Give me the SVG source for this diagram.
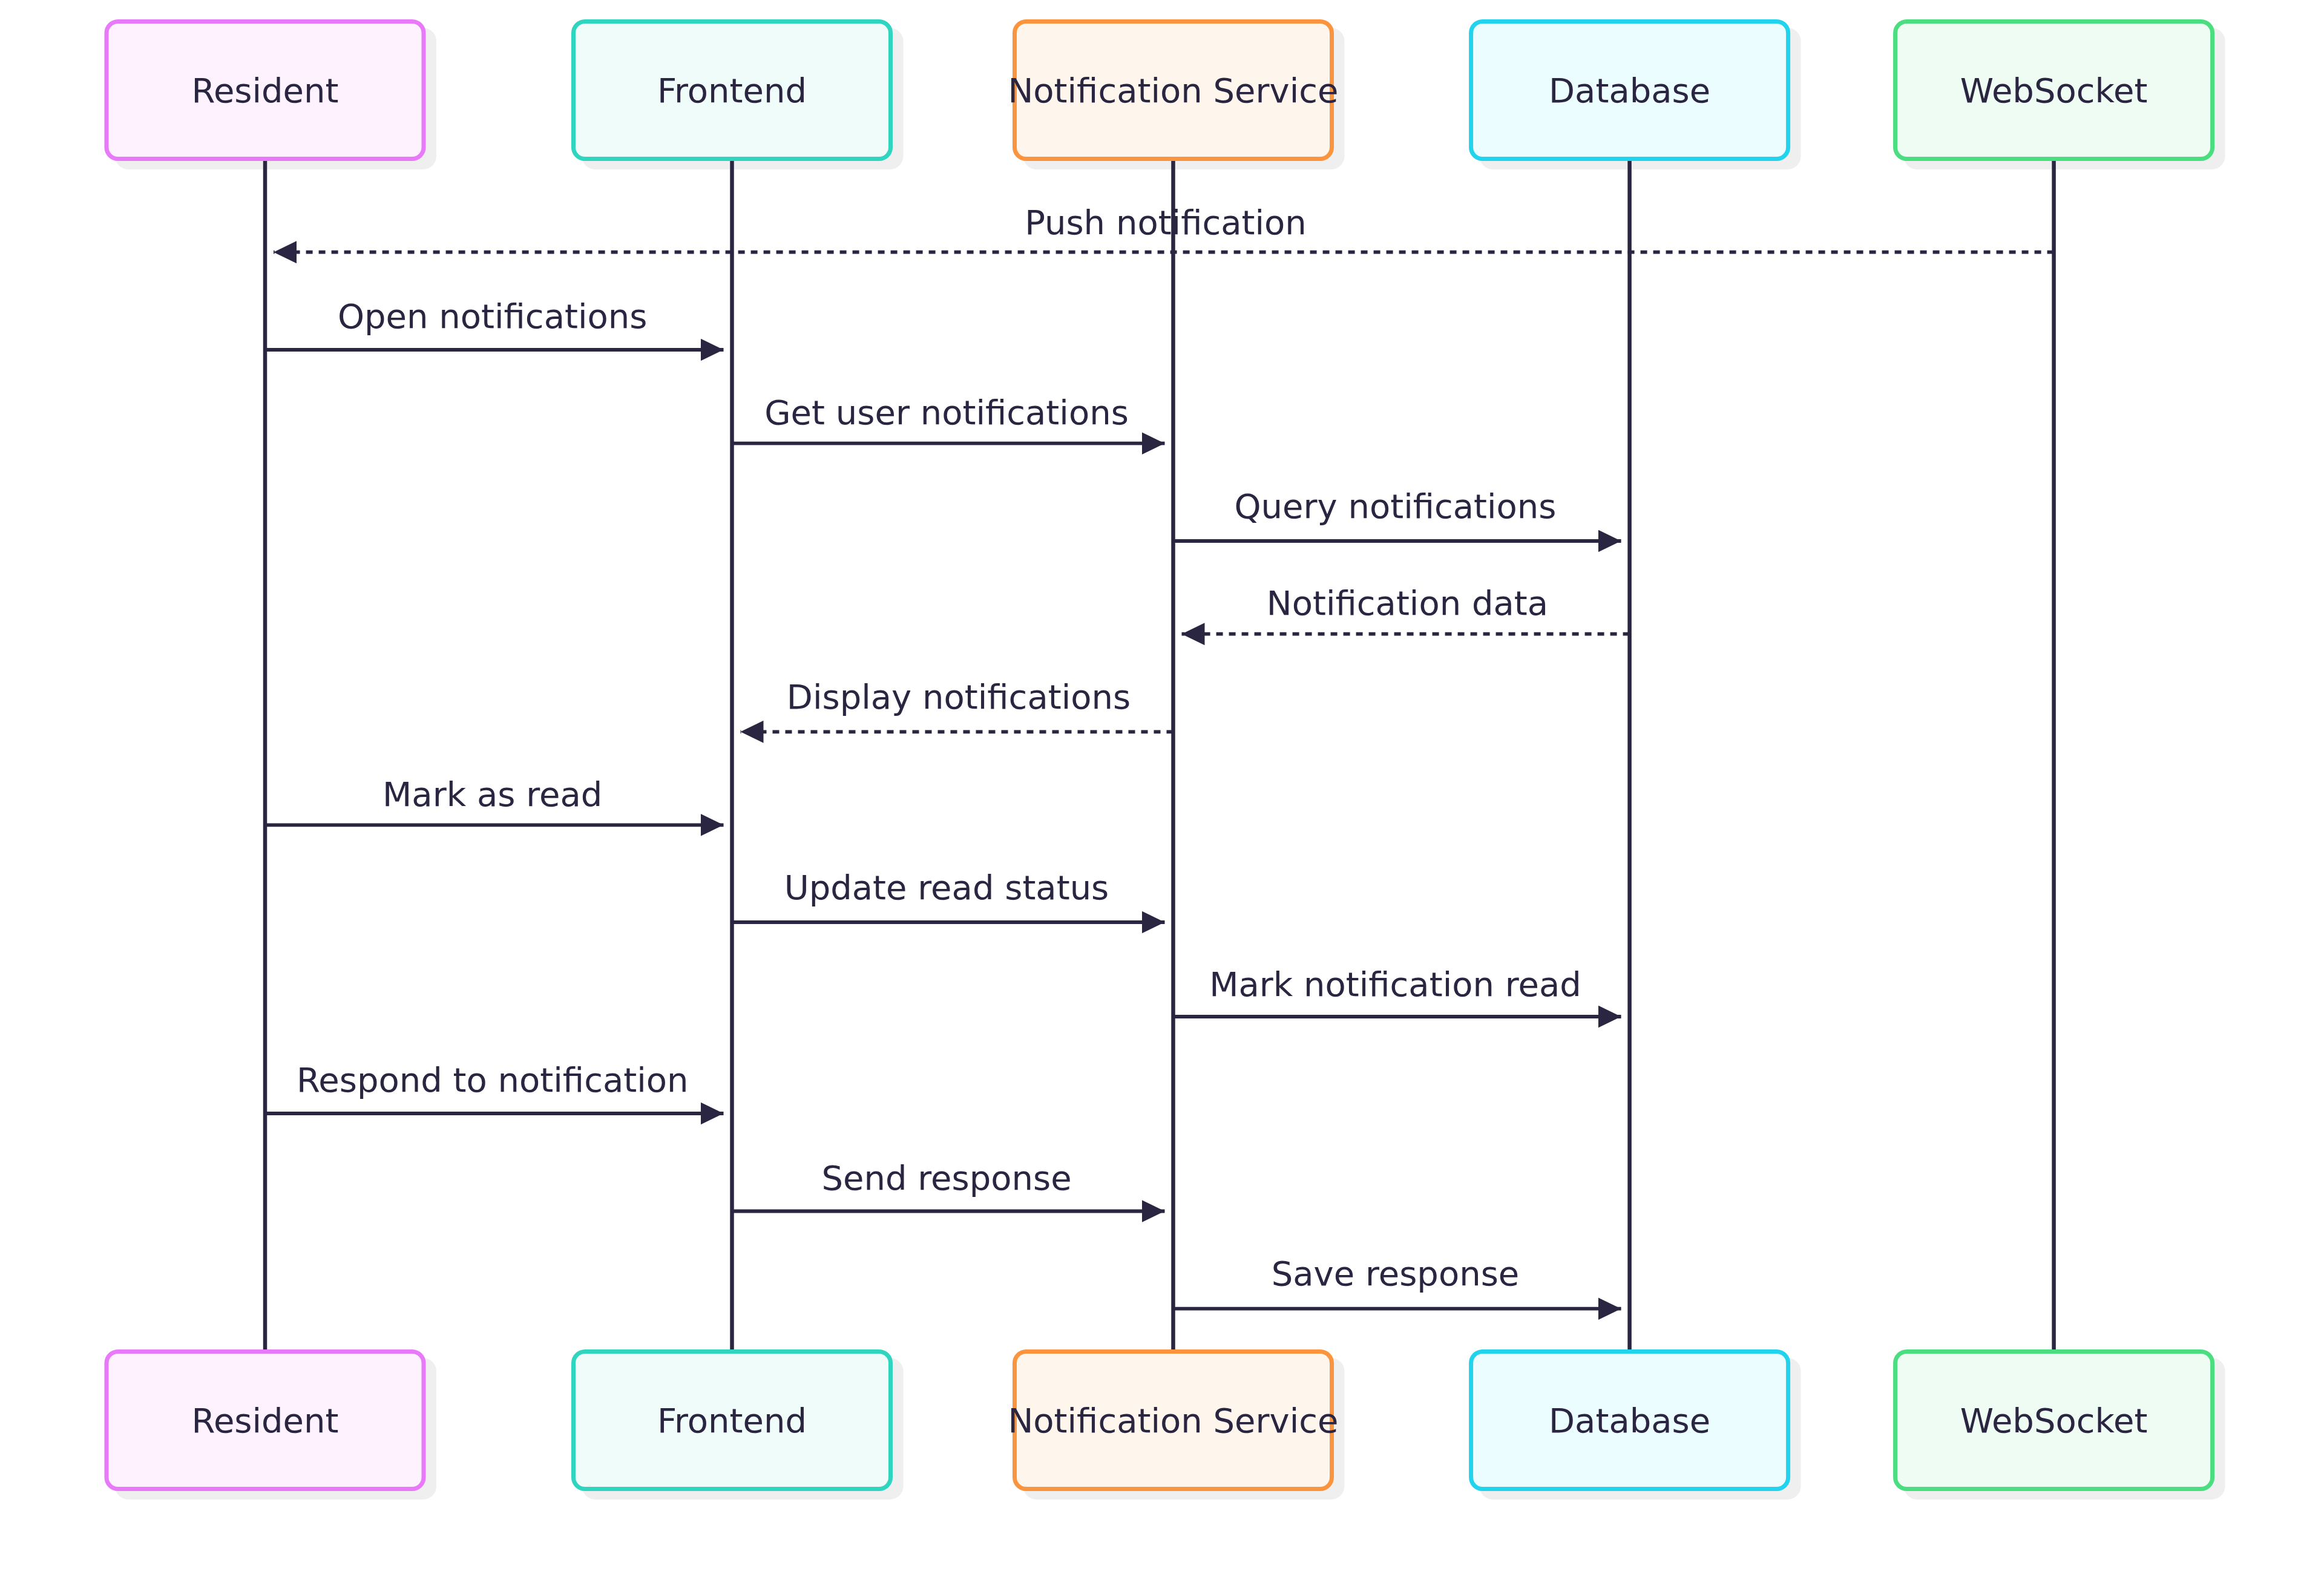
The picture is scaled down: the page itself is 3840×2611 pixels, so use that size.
<svg xmlns="http://www.w3.org/2000/svg" width="3840" height="2611" viewBox="0 0 3840 2611">
<style>
.box{stroke-width:7}
.shadow{fill:#efefef}
.lbl{font-family:"DejaVu Sans",sans-serif;font-size:56px;fill:#2a2540;text-anchor:middle}
.life{stroke:#2a2540;stroke-width:6.5;fill:none}
.msg{stroke:#2a2540;stroke-width:5.8;fill:none;marker-end:url(#arrow)}
.dot{stroke-dasharray:11 10}
.r{fill:#fdf2fe;stroke:#e879f9}
.f{fill:#effcf9;stroke:#2fd5bf}
.n{fill:#fef5ec;stroke:#fb943e}
.d{fill:#ebfdfe;stroke:#22d3ee}
.w{fill:#effcf3;stroke:#4ade80}
</style>
<defs>
<marker id="arrow" markerUnits="userSpaceOnUse" viewBox="0 0 38 37" markerWidth="38" markerHeight="37" refX="38" refY="18.5" orient="auto">
<path d="M0,0 L38,18.5 L0,37 z" fill="#2a2540"/>
</marker>
</defs>
<rect width="3840" height="2611" fill="#ffffff"/>
<g id="resident-top"><rect class="shadow" x="190" y="46" width="531" height="234" rx="22"/><rect class="box r" x="176" y="35.5" width="524" height="227" rx="19"/><text class="lbl" x="438" y="169">Resident</text></g>
<g id="frontend-top"><rect class="shadow" x="961.5" y="46" width="531" height="234" rx="22"/><rect class="box f" x="947.5" y="35.5" width="524" height="227" rx="19"/><text class="lbl" x="1209.5" y="169">Frontend</text></g>
<g id="notification-service-top"><rect class="shadow" x="1690.5" y="46" width="531" height="234" rx="22"/><rect class="box n" x="1676.5" y="35.5" width="524" height="227" rx="19"/><text class="lbl" x="1938.5" y="169">Notification Service</text></g>
<g id="database-top"><rect class="shadow" x="2444.6" y="46" width="531" height="234" rx="22"/><rect class="box d" x="2430.6" y="35.5" width="524" height="227" rx="19"/><text class="lbl" x="2692.6" y="169">Database</text></g>
<g id="websocket-top"><rect class="shadow" x="3145.6" y="46" width="531" height="234" rx="22"/><rect class="box w" x="3131.6" y="35.5" width="524" height="227" rx="19"/><text class="lbl" x="3393.6" y="169">WebSocket</text></g>
<g id="resident-bottom"><rect class="shadow" x="190" y="2244" width="531" height="234" rx="22"/><rect class="box r" x="176" y="2233.5" width="524" height="227" rx="19"/><text class="lbl" x="438" y="2367">Resident</text></g>
<g id="frontend-bottom"><rect class="shadow" x="961.5" y="2244" width="531" height="234" rx="22"/><rect class="box f" x="947.5" y="2233.5" width="524" height="227" rx="19"/><text class="lbl" x="1209.5" y="2367">Frontend</text></g>
<g id="notification-service-bottom"><rect class="shadow" x="1690.5" y="2244" width="531" height="234" rx="22"/><rect class="box n" x="1676.5" y="2233.5" width="524" height="227" rx="19"/><text class="lbl" x="1938.5" y="2367">Notification Service</text></g>
<g id="database-bottom"><rect class="shadow" x="2444.6" y="2244" width="531" height="234" rx="22"/><rect class="box d" x="2430.6" y="2233.5" width="524" height="227" rx="19"/><text class="lbl" x="2692.6" y="2367">Database</text></g>
<g id="websocket-bottom"><rect class="shadow" x="3145.6" y="2244" width="531" height="234" rx="22"/><rect class="box w" x="3131.6" y="2233.5" width="524" height="227" rx="19"/><text class="lbl" x="3393.6" y="2367">WebSocket</text></g>
<g id="lifelines">
<line class="life" x1="438" y1="266" x2="438" y2="2230"/>
<line class="life" x1="1209.5" y1="266" x2="1209.5" y2="2230"/>
<line class="life" x1="1938.5" y1="266" x2="1938.5" y2="2230"/>
<line class="life" x1="2692.6" y1="266" x2="2692.6" y2="2230"/>
<line class="life" x1="3393.6" y1="266" x2="3393.6" y2="2230"/>
</g>
<g id="connectors">
<line class="msg dot" x1="3393.6" y1="416.7" x2="452" y2="416.7"/>
<text class="lbl" x="1926" y="387">Push notification</text>
<line class="msg" x1="438" y1="578" x2="1195.5" y2="578"/>
<text class="lbl" x="813.7" y="542">Open notifications</text>
<line class="msg" x1="1209.5" y1="732.7" x2="1924.5" y2="732.7"/>
<text class="lbl" x="1564" y="700.5">Get user notifications</text>
<line class="msg" x1="1938.5" y1="894" x2="2678.6" y2="894"/>
<text class="lbl" x="2305.5" y="855.5">Query notifications</text>
<line class="msg dot" x1="2692.6" y1="1047.7" x2="1952.5" y2="1047.7"/>
<text class="lbl" x="2325.5" y="1016">Notification data</text>
<line class="msg dot" x1="1938.5" y1="1209.3" x2="1223.5" y2="1209.3"/>
<text class="lbl" x="1584" y="1170.8">Display notifications</text>
<line class="msg" x1="438" y1="1363.3" x2="1195.5" y2="1363.3"/>
<text class="lbl" x="813.7" y="1331.5">Mark as read</text>
<line class="msg" x1="1209.5" y1="1524" x2="1924.5" y2="1524"/>
<text class="lbl" x="1564" y="1485.5">Update read status</text>
<line class="msg" x1="1938.5" y1="1680" x2="2678.6" y2="1680"/>
<text class="lbl" x="2305.5" y="1646">Mark notification read</text>
<line class="msg" x1="438" y1="1840" x2="1195.5" y2="1840"/>
<text class="lbl" x="813.7" y="1804">Respond to notification</text>
<line class="msg" x1="1209.5" y1="2001.5" x2="1924.5" y2="2001.5"/>
<text class="lbl" x="1564" y="1965.5">Send response</text>
<line class="msg" x1="1938.5" y1="2162.7" x2="2678.6" y2="2162.7"/>
<text class="lbl" x="2305.5" y="2124.2">Save response</text>
</g>
</svg>
